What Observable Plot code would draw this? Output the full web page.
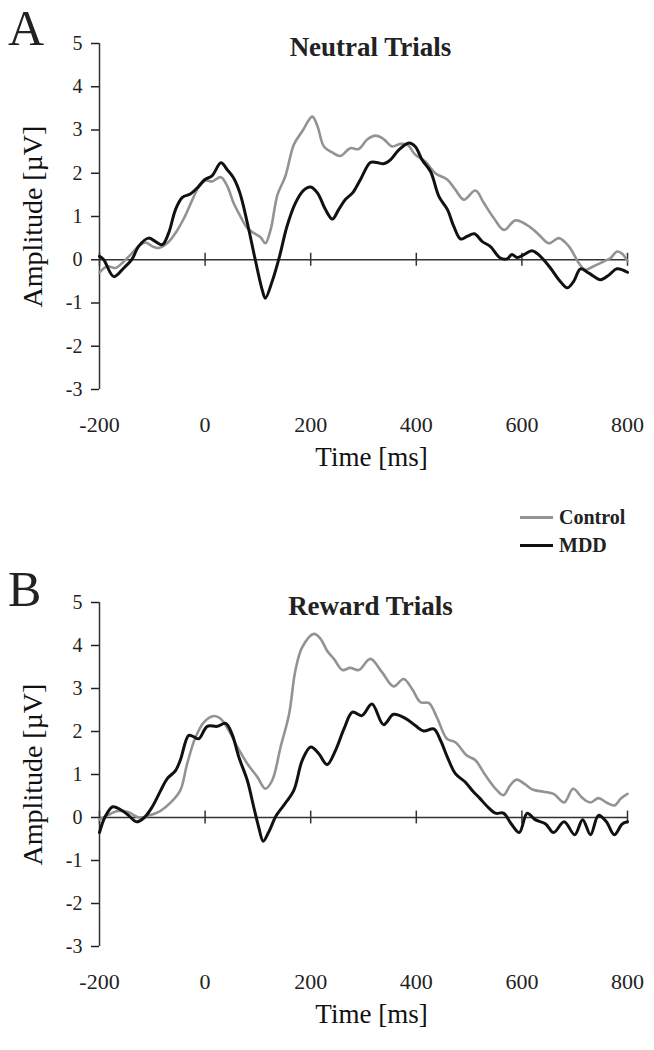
<!DOCTYPE html>
<html>
<head>
<meta charset="utf-8">
<script src="https://cdn.jsdelivr.net/npm/d3@7"></script>
<script src="https://cdn.jsdelivr.net/npm/@observablehq/plot@0.6"></script>
<style>
  html, body { margin: 0; padding: 0; background: #fff; }
  #root { position: relative; width: 654px; height: 1050px; font-family: "Liberation Serif", "Times New Roman", serif; color: #222; }
  .panel { position: absolute; left: 0; }
  .letter { position: absolute; left: 8px; font-size: 50px; line-height: 1.12; }
  .legend { position: absolute; left: 520px; font-weight: bold; font-size: 20px; }
  .legend .row { position: absolute; left: 0; white-space: nowrap; display: flex; align-items: center; }
  .legend .sw { width: 33px; height: 3px; margin-right: 6px; }
</style>
</head>
<body>
<div id="root"></div>
<script>
// ---- data (time in ms, amplitude in µV) ----
const xTicks = [-200, 0, 200, 400, 600, 800];
const yTicks = [-3, -2, -1, 0, 1, 2, 3, 4, 5];
const groups = ["Control", "MDD"];
const panelLetters = ["A", "B"];
const panelTitles = ["Neutral Trials", "Reward Trials"];

const neutralControl = [[-200,-0.29],[-185,-0.15],[-170,-0.19],[-154,-0.04],[-141,0.12],[-126,0.31],[-113,0.40],[-100,0.31],[-88,0.27],[-72,0.38],[-56,0.62],[-40,0.96],[-24,1.39],[-12,1.68],[1,1.83],[13,1.81],[30,1.91],[42,1.70],[54,1.31],[67,1.00],[80,0.73],[92,0.62],[105,0.52],[114,0.38],[124,0.69],[137,1.50],[152,1.93],[168,2.66],[184,2.97],[203,3.31],[213,3.08],[225,2.62],[241,2.48],[256,2.40],[275,2.58],[291,2.56],[307,2.78],[323,2.87],[338,2.79],[354,2.62],[370,2.68],[383,2.66],[398,2.43],[417,2.27],[436,2.00],[459,1.85],[474,1.62],[490,1.39],[512,1.60],[528,1.31],[547,0.96],[566,0.69],[588,0.91],[616,0.75],[632,0.58],[651,0.38],[670,0.50],[689,0.31],[708,-0.08],[720,-0.23],[736,-0.15],[755,-0.04],[768,0.04],[780,0.19],[790,0.14],[800,-0.04]];

const neutralMDD = [[-200,0.08],[-192,0.0],[-173,-0.39],[-154,-0.19],[-138,0.02],[-126,0.31],[-107,0.50],[-94,0.42],[-81,0.35],[-69,0.62],[-56,1.16],[-43,1.44],[-28,1.52],[-15,1.66],[-1,1.85],[13,1.94],[30,2.24],[42,2.08],[54,1.89],[66,1.54],[80,0.85],[95,0.0],[108,-0.69],[114,-0.89],[127,-0.5],[141,0.08],[155,0.77],[171,1.31],[186,1.60],[200,1.68],[213,1.54],[228,1.16],[241,0.94],[253,1.16],[266,1.40],[279,1.54],[294,1.85],[313,2.25],[325,2.25],[338,2.22],[351,2.31],[367,2.54],[386,2.70],[398,2.62],[411,2.31],[427,2.04],[443,1.46],[459,1.16],[471,0.77],[484,0.48],[496,0.54],[510,0.60],[525,0.42],[540,0.31],[559,0.04],[572,0.02],[581,0.12],[591,0.05],[604,0.12],[619,0.21],[635,0.08],[654,-0.19],[670,-0.46],[686,-0.65],[698,-0.50],[711,-0.21],[727,-0.31],[749,-0.46],[765,-0.35],[780,-0.21],[800,-0.29]];

const rewardControl = [[-200,-0.05],[-185,0.05],[-165,0.15],[-145,0.12],[-125,0.0],[-105,0.05],[-85,0.15],[-65,0.35],[-47,0.63],[-34,1.25],[-18,1.87],[-2,2.22],[17,2.36],[29,2.30],[45,2.02],[61,1.64],[80,1.25],[99,0.94],[114,0.67],[127,0.86],[143,1.64],[159,2.40],[171,3.42],[184,3.96],[206,4.27],[219,4.15],[231,3.88],[244,3.69],[260,3.43],[275,3.48],[291,3.43],[313,3.69],[335,3.38],[357,3.05],[376,3.22],[392,2.99],[408,2.68],[424,2.66],[439,2.33],[458,1.83],[474,1.75],[496,1.44],[512,1.33],[531,0.98],[553,0.63],[565,0.52],[578,0.75],[590,0.88],[605,0.78],[620,0.65],[641,0.60],[660,0.55],[680,0.35],[697,0.67],[715,0.45],[730,0.35],[745,0.45],[760,0.35],[775,0.28],[788,0.45],[800,0.55]];

const rewardMDD = [[-200,-0.35],[-190,0.0],[-175,0.25],[-160,0.18],[-145,0.05],[-130,-0.1],[-115,0.0],[-100,0.25],[-84,0.63],[-72,0.90],[-56,1.09],[-47,1.33],[-31,1.91],[-22,1.88],[-12,1.83],[4,2.12],[23,2.12],[39,2.19],[51,1.94],[64,1.40],[80,0.86],[92,0.25],[102,-0.25],[110,-0.55],[120,-0.35],[135,0.05],[150,0.3],[168,0.63],[184,1.33],[200,1.64],[215,1.49],[231,1.23],[247,1.56],[263,2.06],[279,2.45],[297,2.37],[316,2.64],[338,2.16],[357,2.40],[380,2.30],[398,2.14],[414,2.01],[433,2.06],[446,1.79],[459,1.40],[474,1.02],[493,0.82],[506,0.63],[520,0.45],[535,0.25],[550,0.1],[565,0.1],[580,-0.15],[595,-0.35],[610,0.1],[625,-0.05],[645,-0.15],[660,-0.35],[680,-0.1],[700,-0.4],[715,-0.05],[730,-0.4],[745,0.05],[760,-0.1],[775,-0.4],[790,-0.15],[800,-0.1]];

const colors = {Control: "#939393", MDD: "#111111"};
const widths = {Control: 2.6, MDD: 3};

const root = document.getElementById("root");

function panel(title, control, mdd, top, height, marginBottom) {
  const rows = [
    ...control.map(([t, v]) => ({t, v, g: "Control"})),
    ...mdd.map(([t, v]) => ({t, v, g: "MDD"}))
  ];
  const chart = Plot.plot({
    width: 654, height,
    marginTop: 43, marginLeft: 99, marginRight: 27, marginBottom,
    style: {fontFamily: "'Liberation Serif', 'Times New Roman', serif", color: "#222", background: "transparent", overflow: "visible"},
    x: {domain: [-200, 800]},
    y: {domain: [-3, 5]},
    marks: [
      Plot.axisY({ticks: yTicks, tickSize: 8, tickPadding: 9, fontSize: 20, label: null, tickFormat: d => String(d), strokeWidth: 1.5}),
      Plot.axisX({ticks: xTicks, tickSize: 0, tickPadding: 27, fontSize: 22, label: null, tickFormat: d => String(d)}),
      Plot.ruleX([-200], {y1: -3, y2: 5, stroke: "#333", strokeWidth: 1.5}),
      Plot.ruleY([0], {stroke: "#333", strokeWidth: 1.5}),
      Plot.ruleX(xTicks, {y1: -0.15, y2: 0.15, stroke: "#333", strokeWidth: 1.5}),
      ...groups.map(g => Plot.line(rows.filter(d => d.g === g), {x: "t", y: "v", stroke: colors[g], strokeWidth: widths[g], curve: "catmull-rom"})),
      Plot.text([title], {frameAnchor: "top", dx: 7, dy: -7, fontSize: 27, fontWeight: "bold", fill: "#222"}),
      Plot.text(["Time [ms]"], {frameAnchor: "bottom", dx: 8, dy: 76, fontSize: 27, fill: "#111"}),
      Plot.text(["Amplitude [µV]"], {frameAnchor: "left", textAnchor: "middle", rotate: -90, dx: -66, fontSize: 28, fill: "#111"})
    ]
  });
  chart.classList.add("panel");
  chart.style.top = top + "px";
  root.appendChild(chart);
}

panel(panelTitles[0], neutralControl, neutralMDD, 0, 500, 111);
panel(panelTitles[1], rewardControl, rewardMDD, 559, 491, 104);

// panel letters
[[panelLetters[0], 0], [panelLetters[1], 561]].forEach(([l, top]) => {
  const d = document.createElement("div");
  d.className = "letter";
  d.style.top = top + "px";
  d.textContent = l;
  root.appendChild(d);
});

// legend
const legend = document.createElement("div");
legend.className = "legend";
legend.style.top = "506px";
groups.forEach((g, i) => {
  const row = document.createElement("div");
  row.className = "row";
  row.style.top = (i * 28) + "px";
  const sw = document.createElement("span");
  sw.className = "sw";
  sw.style.background = colors[g];
  const lab = document.createElement("span");
  lab.textContent = g;
  row.appendChild(sw);
  row.appendChild(lab);
  legend.appendChild(row);
});
root.appendChild(legend);
</script>
</body>
</html>
